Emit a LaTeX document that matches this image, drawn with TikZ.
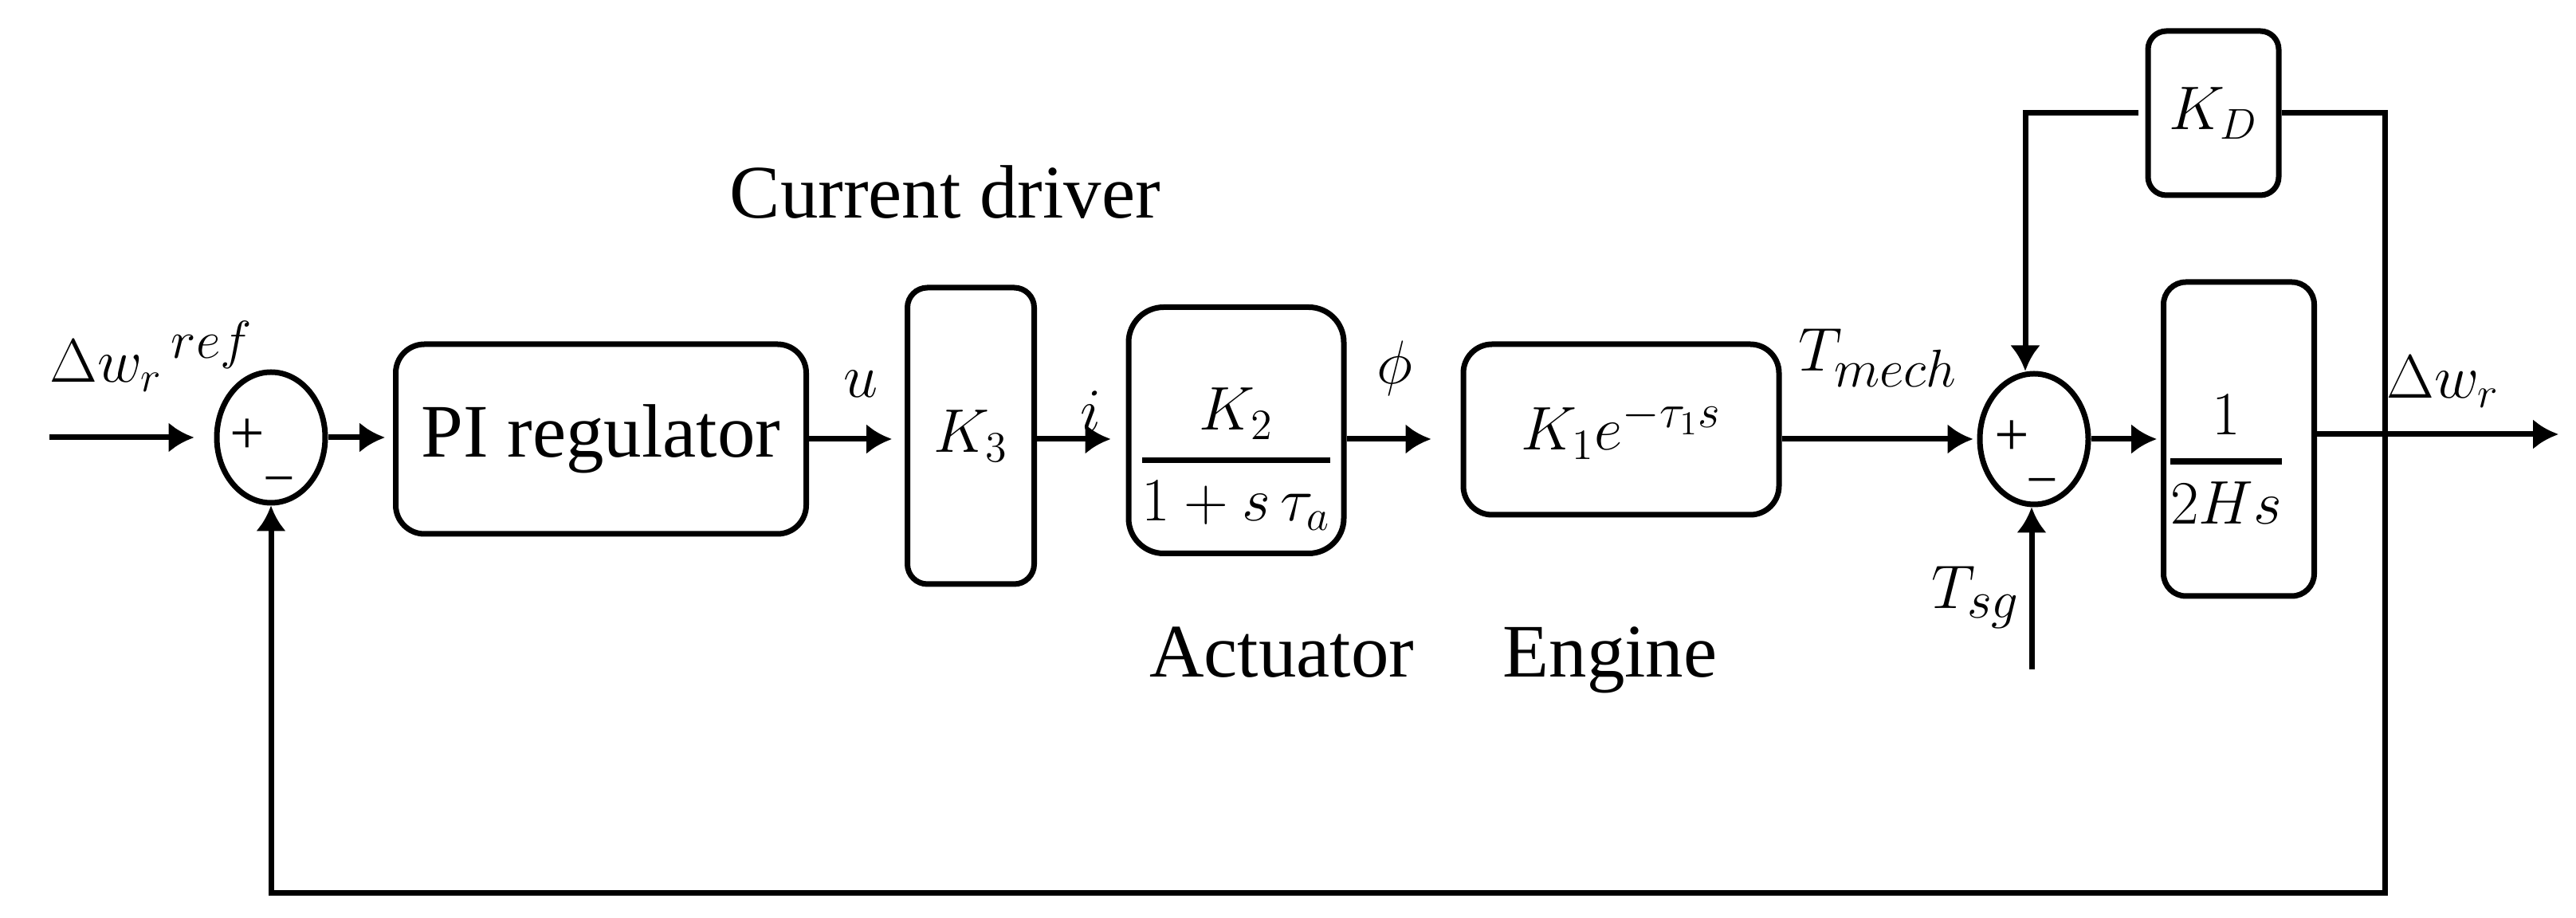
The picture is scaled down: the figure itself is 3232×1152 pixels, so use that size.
\RequirePackage{fix-cm}
\documentclass[tikz,border=0pt]{standalone}
\usepackage{amsmath}
\usepackage{fontspec}
\setmainfont{Liberation Serif}
\usetikzlibrary{arrows.meta,shapes.geometric}
\newcommand{\mysub}[1]{\mbox{\fontsize{19}{19}\selectfont$#1$}}
\newcommand{\myexp}[1]{\mbox{\fontsize{17}{17}\selectfont$#1$}}
\begin{document}
\begin{tikzpicture}[x=0.1mm,y=-0.1mm,
  ln/.style={line width=0.7mm},
  arr/.style={ln,-{Latex[length=3.2mm,width=3.8mm]}},
  blk/.style={draw,ln,rectangle,inner sep=0pt},
  sumn/.style={draw,ln,ellipse,minimum width=13.6mm,minimum height=16.4mm,inner sep=0pt},
  txt/.style={font=\fontsize{27}{30}\selectfont},
  mth/.style={font=\fontsize{22}{26}\selectfont,inner sep=0pt},
  plus/.style={font=\fontsize{22}{22}\selectfont,inner sep=0pt,text height=4.2mm,text depth=0pt},
  minus/.style={font=\fontsize{20}{20}\selectfont,inner sep=0pt,text height=3.4mm,text depth=0pt}]
\fill[white] (0,0) rectangle (3232,1152);
\useasboundingbox (0,0) rectangle (3232,1152);

% blocks
\node[sumn] (s1) at (340,549) {};
\node[blk,rounded corners=3.6mm,minimum width=51.5mm,minimum height=23.8mm,txt] (pi) at (754,551) {PI regulator};
\node[blk,rounded corners=2.5mm,minimum width=15.9mm,minimum height=37.2mm,mth] (k3) at (1218,547) {$K_3$};
\node[blk,rounded corners=4.4mm,minimum width=27mm,minimum height=30.9mm,mth] (k2) at (1551,540)
  {\raisebox{-3.6mm}[\height][\depth]{$\genfrac{}{}{0.75mm}{0}{K_2}{1+s\,\tau_a}$}};
\node[blk,rounded corners=3.6mm,minimum width=39.6mm,minimum height=21.4mm,mth] (eng) at (2034,539) {$K_1 e^{\myexp{-\tau_1 s}}$};
\node[sumn] (s2) at (2552,551) {};
\node[blk,rounded corners=2.8mm,minimum width=18.9mm,minimum height=39.4mm,mth] (hs) at (2809,551)
  {\hspace*{-3.2mm}\raisebox{-2.6mm}[\height][\depth]{$\genfrac{}{}{0.75mm}{0}{1}{2Hs}$}};
\node[blk,rounded corners=2.3mm,minimum width=16.4mm,minimum height=20.6mm,mth] (kd) at (2777,142) {$K_D$};

% signs
\node[plus] (p1) at ([xshift=-3.0mm]s1.center) {+};
\node[minus] (m1) at ([xshift=1.0mm,yshift=-5.8mm]s1.center) {−};
\node[plus] (p2) at ([xshift=-2.8mm]s2.center) {+};
\node[minus] (m2) at ([xshift=1.0mm,yshift=-5.8mm]s2.center) {−};

% coordinates
\coordinate (ml) at (0,551);
\coordinate (in) at (62,549);
\coordinate (out) at (3210,545);
\coordinate (bot) at (2992,1121);
\coordinate (tsg) at (2549,840);

% connectors
\draw[arr,shorten >=2.5mm] (in) -- (s1.west);
\draw[arr,shorten >=1mm] (s1.east) -- (s1.east -| pi.west);
\draw[arr,shorten >=1.6mm] (pi.east |- ml) -- (k3.west |- ml);
\draw[arr,shorten >=1.9mm] (k3.east |- ml) -- (k2.west |- ml);
\draw[arr,shorten >=3.7mm] (k2.east |- ml) -- (eng.west |- ml);
\draw[arr,shorten >=0.5mm] (eng.east |- ml) -- (s2.west);
\draw[arr,shorten >=0.5mm] (s2.east) -- (hs.west);
\draw[arr] (hs.east |- out) -- (out);
\draw[arr] (kd.east) -| (bot) -| (s1.south);
\draw[arr,shorten <=0.9mm] (kd.west) -| ([xshift=-1.1mm]s2.north);
\draw[arr] (tsg) -- (tsg |- s2.south);

% signal labels
\node[mth,anchor=base west] (lref) at (62,480) {$\Delta w_r\raisebox{3mm}{\fontsize{19}{19}\selectfont\,$ref$}$};
\node[mth] (lu) at (1080,482) {$u$};
\node[mth,anchor=base] (li) at (1368,542) {$i$};
\node[mth] (lphi) at (1750,462) {$\phi$};
\node[mth,anchor=base west] (ltm) at (2256,466) {$T_{\mysub{mech}}$};
\node[mth,anchor=base west] (lts) at (2423,764) {$T_{\mysub{sg}}$};
\node[mth,anchor=base west] (lout) at (2994,500) {$\Delta w_r$};

% captions
\node[txt,anchor=base] (lcd) at (1186,274) {Current driver};
\node[txt,anchor=base] (lact) at (1608,850) {Actuator};
\node[txt,anchor=base] (leng) at (2020,850) {Engine};
\end{tikzpicture}
\end{document}
